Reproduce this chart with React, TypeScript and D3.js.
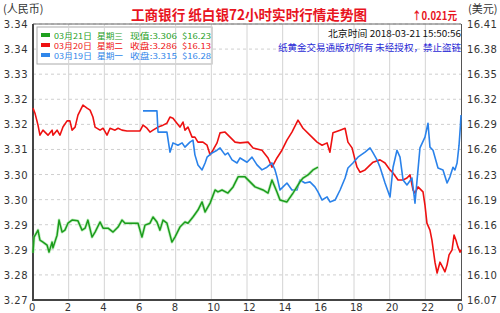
import React from "react";
import * as d3 from "d3";

// ---- data (hours since 00:00 Beijing time, price RMB/gram) ----
const greenSeries: [number, number][] = [
  [0.0, 3.2842], [0.06, 3.2883], [0.22, 3.2896], [0.28, 3.2901], [0.39, 3.2875], [0.56, 3.287],
  [0.79, 3.2862], [0.9, 3.2844], [1.07, 3.287], [1.12, 3.2855], [1.35, 3.2888], [1.46, 3.2927],
  [1.63, 3.2896], [1.79, 3.2901], [1.96, 3.2919], [2.19, 3.2927], [2.52, 3.2925], [2.75, 3.2901],
  [2.92, 3.2906], [3.08, 3.2927], [3.31, 3.2883], [3.48, 3.2896], [3.76, 3.2922], [3.93, 3.2906],
  [4.21, 3.2906], [4.49, 3.2896], [4.77, 3.2909], [4.99, 3.2927], [5.16, 3.2919], [5.44, 3.2919],
  [5.89, 3.2919], [6.11, 3.2883], [6.28, 3.2914], [6.56, 3.2919], [6.73, 3.2935], [6.95, 3.2922],
  [7.12, 3.2901], [7.29, 3.2927], [7.51, 3.2919], [7.79, 3.287], [7.96, 3.2883], [8.24, 3.2909],
  [8.52, 3.2922], [8.69, 3.2919], [8.97, 3.2935], [9.25, 3.2953], [9.48, 3.2974], [9.65, 3.2948],
  [9.93, 3.2971], [10.21, 3.3005], [10.37, 3.3], [10.6, 3.3005], [10.93, 3.2997], [11.22, 3.3013],
  [11.5, 3.3039], [11.89, 3.3039], [12.17, 3.3026], [12.45, 3.3013], [12.9, 3.3005], [13.18, 3.2997],
  [13.4, 3.3031], [13.68, 3.3], [13.85, 3.2979], [14.24, 3.2974], [14.58, 3.2997], [14.97, 3.3026],
  [15.14, 3.3036], [15.42, 3.3044], [15.7, 3.3057], [15.98, 3.3064],
];

const redSeries: [number, number][] = [
  [0.0, 3.3217], [0.11, 3.3204], [0.28, 3.3173], [0.39, 3.3147], [0.56, 3.316], [0.67, 3.3155],
  [0.84, 3.3147], [1.07, 3.316], [1.12, 3.3147], [1.35, 3.316], [1.51, 3.3147], [1.68, 3.3168],
  [1.91, 3.3184], [2.07, 3.3184], [2.19, 3.316], [2.36, 3.3168], [2.52, 3.3199], [2.8, 3.3225],
  [3.03, 3.3217], [3.2, 3.3212], [3.36, 3.3194], [3.48, 3.3168], [3.76, 3.316], [3.93, 3.3165],
  [4.15, 3.3147], [4.32, 3.3165], [4.6, 3.316], [4.77, 3.3165], [4.99, 3.316], [5.27, 3.3158],
  [5.61, 3.3158], [6.0, 3.3158], [6.17, 3.3173], [6.39, 3.3165], [6.56, 3.3155], [6.73, 3.316],
  [7.01, 3.3168], [7.29, 3.3173], [7.51, 3.3178], [7.68, 3.3194], [7.85, 3.3191], [8.07, 3.3178],
  [8.24, 3.3168], [8.41, 3.3181], [8.52, 3.316], [8.69, 3.3168], [8.92, 3.3142], [9.08, 3.3142],
  [9.25, 3.3129], [9.53, 3.3129], [9.76, 3.3121], [9.93, 3.3096], [10.09, 3.3108], [10.32, 3.3127],
  [10.49, 3.3153], [10.77, 3.3155], [11.05, 3.3142], [11.33, 3.3129], [11.61, 3.3127], [12.06, 3.3129],
  [12.34, 3.3114], [12.84, 3.3108], [13.18, 3.3088], [13.4, 3.3064], [13.68, 3.3088], [13.96, 3.3108],
  [14.24, 3.3134], [14.52, 3.3155], [14.86, 3.3186], [15.14, 3.3165], [15.53, 3.3147], [15.93, 3.3129],
  [16.21, 3.3121], [16.49, 3.3127], [16.65, 3.3103], [16.82, 3.3153], [17.22, 3.316], [17.5, 3.3165],
  [17.66, 3.3129], [17.89, 3.3114], [18.06, 3.3083], [18.17, 3.3064], [18.34, 3.3051], [18.62, 3.3057],
  [19.07, 3.3077], [19.46, 3.3083], [19.74, 3.3075], [20.02, 3.3057], [20.19, 3.3049], [20.47, 3.3031],
  [20.75, 3.3031], [20.97, 3.3036], [21.14, 3.3044], [21.31, 3.3005], [21.42, 3.2997], [21.59, 3.3013],
  [21.87, 3.3], [21.98, 3.2966], [22.09, 3.2919], [22.26, 3.2901], [22.37, 3.2875], [22.54, 3.2818],
  [22.66, 3.279], [22.82, 3.2818], [22.99, 3.2803], [23.1, 3.2793], [23.22, 3.2811], [23.33, 3.2837],
  [23.5, 3.285], [23.61, 3.2888], [23.72, 3.2875], [23.83, 3.2857], [23.95, 3.2844], [24.0, 3.285],
];

const blueSeries: [number, number][] = [
  [6.17, 3.321], [6.95, 3.321], [7.01, 3.3155], [7.51, 3.3155], [7.68, 3.3103], [7.85, 3.3127],
  [8.13, 3.3121], [8.36, 3.3127], [8.52, 3.3116], [8.8, 3.3129], [8.97, 3.3134], [9.08, 3.3096],
  [9.25, 3.307], [9.48, 3.3057], [9.65, 3.3075], [9.76, 3.309], [10.04, 3.3101], [10.32, 3.3108],
  [10.49, 3.3114], [10.77, 3.3096], [10.93, 3.3101], [11.16, 3.3083], [11.44, 3.3075], [11.61, 3.3088],
  [12.0, 3.3077], [12.28, 3.309], [12.56, 3.307], [12.84, 3.3057], [13.12, 3.3064], [13.4, 3.3075],
  [13.57, 3.3057], [13.68, 3.3039], [13.85, 3.3005], [14.02, 3.3013], [14.24, 3.3023], [14.52, 3.3005],
  [14.8, 3.3005], [14.97, 3.3031], [15.25, 3.3023], [15.53, 3.3026], [15.81, 3.3013], [15.98, 3.3],
  [16.21, 3.2979], [16.49, 3.2987], [16.65, 3.2974], [16.94, 3.2979], [17.22, 3.3005], [17.5, 3.3036],
  [17.66, 3.3062], [17.94, 3.3075], [18.22, 3.309], [18.62, 3.3103], [18.9, 3.3114], [19.07, 3.3101],
  [19.29, 3.3083], [19.46, 3.3064], [19.74, 3.3023], [20.02, 3.2987], [20.19, 3.3064], [20.41, 3.3108],
  [20.58, 3.309], [20.75, 3.3031], [20.97, 3.3018], [21.25, 3.3036], [21.42, 3.2971], [21.7, 3.3114],
  [21.98, 3.3142], [22.15, 3.3178], [22.26, 3.3116], [22.43, 3.3108], [22.71, 3.3062], [22.99, 3.3057],
  [23.22, 3.3023], [23.38, 3.3039], [23.55, 3.3064], [23.66, 3.3057], [23.78, 3.3075], [23.89, 3.3121],
  [23.97, 3.3173], [24.0, 3.3199],
];

const leftTickLabels = ["3.27", "3.28", "3.29", "3.29", "3.30", "3.30", "3.31", "3.32", "3.32", "3.33", "3.34", "3.34"];
const rightTickLabels = ["16.07", "16.10", "16.13", "16.16", "16.19", "16.23", "16.26", "16.29", "16.32", "16.35", "16.38", "16.41"];
const hourTicks = [0, 2, 4, 6, 8, 10, 12, 14, 16, 18, 20, 22, 24];
const hourLabels = ["0", "2", "4", "6", "8", "10", "12", "14", "16", "18", "20", "22", "0"];

const legendDates = ["03月21日", "03月20日", "03月19日"];
const legendWeekdays = ["星期三", "星期二", "星期一"];
const legendRmb = ["现值:3.306", "收盘:3.286", "收盘:3.315"];
const legendUsd = ["$16.23", "$16.13", "$16.28"];
const legendColors = ["#1fa01f", "#ee1111", "#2f86ea"];

const yMin = 3.272;
const yStep = 0.0065;

export default function App() {
  const W = 500, H = 313;
  const L = 33, R = 461, T = 24, B = 300;
  const x = d3.scaleLinear().domain([0, 24]).range([L, R]);
  const yTicks = leftTickLabels.map((_, i) => yMin + i * yStep);
  const y = d3.scaleLinear().domain([yMin, yTicks[yTicks.length - 1]]).range([B, T]);
  const yR = d3.scaleLinear().domain([0, rightTickLabels.length - 1]).range([B, T]);
  const line = d3.line<[number, number]>().x(d => x(d[0])).y(d => y(d[1]));
  const cjk = "'Noto Sans CJK SC', 'DejaVu Sans', sans-serif";
  const num = "'DejaVu Sans', sans-serif";

  const segX = [54, 97, 130, 182];
  const segLen = [38, 26, 47, 29];
  const rowGap = 10;

  return (
    <svg width={W} height={H} style={{ position: "absolute", left: 0, top: 0, background: "#fff" }}>
      <rect x={0} y={0} width={W} height={H} fill="#fff" />
      {/* horizontal dashed grid */}
      {yTicks.map((t, i) => (
        <line key={"h" + i} x1={L} x2={R} y1={y(t)} y2={y(t)} stroke="#cfcfcf" strokeDasharray="3,3" />
      ))}
      {/* legend box */}
      <rect x={37} y={27} width={175} height={37} fill="#fff" stroke="#aaa" />
      {/* vertical grid */}
      {hourTicks.slice(1, -1).map(h => (
        <line key={"v" + h} x1={x(h)} x2={x(h)} y1={T} y2={B} stroke="#d4d4d4" />
      ))}
      {/* frame */}
      <line x1={L} x2={R} y1={T} y2={T} stroke="#666" />
      <line x1={R + 0.5} x2={R + 0.5} y1={T} y2={B} stroke="#555" />
      <line x1={L} x2={L} y1={T} y2={B + 1} stroke="#444" strokeWidth={2} />
      <line x1={L} x2={R + 1} y1={B} y2={B} stroke="#444" strokeWidth={2} />

      {/* series */}
      <path d={line(redSeries) || ""} fill="none" stroke="#ee1111" strokeWidth={1.6} strokeLinejoin="round" />
      <path d={line(blueSeries) || ""} fill="none" stroke="#2a82ea" strokeWidth={1.6} strokeLinejoin="round" />
      <path d={line(greenSeries) || ""} fill="none" stroke="#9be59b" strokeWidth={3} strokeLinejoin="round" opacity={0.6} />
      <path d={line(greenSeries) || ""} fill="none" stroke="#1c9c1c" strokeWidth={1.5} strokeLinejoin="round" />

      {/* legend */}
      {legendColors.map((c, i) => {
        const segs = [legendDates[i], legendWeekdays[i], legendRmb[i], legendUsd[i]];
        return (
          <g key={"lg" + i}>
            <rect x={41} y={33 + i * rowGap} width={9} height={4} fill={c} />
            {segs.map((s, k) => (
              <text key={k} x={segX[k]} y={38.5 + i * rowGap} fontSize={8} fontFamily={cjk} fill={c} textLength={segLen[k]} lengthAdjust="spacingAndGlyphs">{s}</text>
            ))}
          </g>
        );
      })}

      {/* left ticks */}
      {leftTickLabels.map((s, i) => (
        <text key={"l" + i} x={28} y={y(yTicks[i]) + 4} fontSize={10} fontFamily={num} fill="#333" textAnchor="end" letterSpacing={0.5}>{s}</text>
      ))}
      {/* right ticks */}
      {rightTickLabels.map((s, i) => (
        <text key={"r" + i} x={467} y={yR(i) + 4} fontSize={10} fontFamily={num} fill="#333" letterSpacing={0.3}>{s}</text>
      ))}
      {/* bottom ticks */}
      {hourTicks.map((h, i) => (
        <text key={"b" + i} x={x(h) - 4} y={311} fontSize={10} fontFamily={num} fill="#333">{hourLabels[i]}</text>
      ))}

      {/* titles */}
      <text x={3} y={13} fontSize={11} fontFamily={cjk} fill="#333">(人民币)</text>
      <text x={468} y={13} fontSize={11} fontFamily={cjk} fill="#333">(美元)</text>
      <text x={131} y={20} fontSize={14} fontWeight="bold" fontFamily={cjk} fill="#e8141e" textLength={236} lengthAdjust="spacingAndGlyphs">工商银行  纸白银72小时实时行情走势图</text>
      <text x={412} y={20} fontSize={11} fontWeight="bold" fontFamily={cjk} fill="#e8141e" textLength={45} lengthAdjust="spacingAndGlyphs">↑0.021元</text>
      <text x={461} y={37} fontSize={9.5} fontFamily={cjk} fill="#111" textAnchor="end" textLength={133} lengthAdjust="spacingAndGlyphs">北京时间 2018-03-21 15:50:56</text>
      <text x={461} y={51} fontSize={9.5} fontFamily={cjk} fill="#2a2ad6" textAnchor="end" textLength={183} lengthAdjust="spacingAndGlyphs">纸黄金交易通版权所有 未经授权，禁止盗链</text>
    </svg>
  );
}
